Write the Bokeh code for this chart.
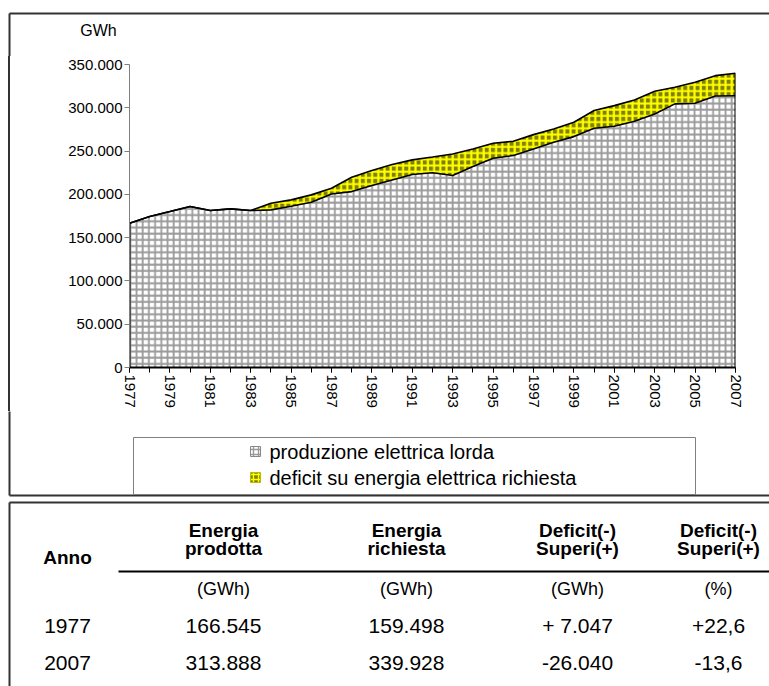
from bokeh.plotting import figure
from bokeh.models import ColumnDataSource, FixedTicker, Range1d, Div
from bokeh.layouts import column, row
from bokeh.core.properties import value
from bokeh.transform import stack
from bokeh.embed import file_html
from bokeh.resources import INLINE

# ---------------- data ----------------
years = list(range(1977, 2008))
produzione = [166545, 174400, 180100, 185900, 181300, 183200, 181300, 182100, 186300, 190900,
              200500, 203200, 210200, 216700, 223000, 225000, 221700, 232100, 241700, 244800,
              252500, 260200, 266700, 276300, 278700, 284400, 292900, 304500, 305300, 313700,
              313888]
deficit = [0, 0, 0, 0, 0, 0, 0, 7600, 7300, 8500,
           6500, 16500, 17300, 17700, 16800, 18200, 25000, 20400, 17300, 16500,
           16500, 15400, 16600, 20500, 23800, 24700, 26200, 19200, 24100, 23400,
           26040]
series_names = ["produzione elettrica lorda", "deficit su energia elettrica richiesta"]

y_ticks = [0, 50000, 100000, 150000, 200000, 250000, 300000, 350000]
y_tick_labels = ["0", "50.000", "100.000", "150.000", "200.000", "250.000", "300.000", "350.000"]
x_label_years = list(range(1977, 2008, 2))
x_tick_labels = [str(y) for y in x_label_years]
y_unit = "GWh"

# table
table_headers = [["Anno"], ["Energia", "prodotta"], ["Energia", "richiesta"],
                 ["Deficit(-)", "Superi(+)"], ["Deficit(-)", "Superi(+)"]]
table_units = ["", "(GWh)", "(GWh)", "(GWh)", "(%)"]
anno = ["1977", "2007"]
energia_prodotta = ["166.545", "313.888"]
energia_richiesta = ["159.498", "339.928"]
deficit_gwh = ["+ 7.047", "-26.040"]
deficit_pct = ["+22,6", "-13,6"]

FONT = "Liberation Sans"
BOX = "#333333"
W, H = 769, 686
PROD_STYLE = dict(fill_color="#ffffff", hatch_color="#9a9a9a")
DEF_STYLE = dict(fill_color="#808000", hatch_color="#ffff00")


def panel(w, h, x0, y0):
    """A blank figure whose frame is its whole canvas, in page pixel units (y down)."""
    f = figure(width=w, height=h, x_range=Range1d(x0, x0 + w), y_range=Range1d(y0 + h, y0),
               output_backend="svg", toolbar_location=None, min_border=0,
               x_axis_type=None, y_axis_type=None, title=None)
    f.grid.visible = False
    f.outline_line_color = None
    f.background_fill_color = "white"
    f.border_fill_color = "white"
    return f


# ---------------- top strip ----------------
T_H = 56
top = panel(W, T_H, 0, 0)
top.segment(x0=[9, 9], y0=[13, 13], x1=[W + 5, 9], y1=[13, T_H + 5], line_color=BOX, line_width=2)
top.text(x=[98], y=[30], text=[y_unit], text_font=value(FONT), text_font_size=value("16px"),
         text_align="center", text_baseline="middle", text_color="black")

# ---------------- chart ----------------
L_W = 58
C_H = 355
p = figure(width=W - L_W, height=C_H, x_range=(1977, 2007), y_range=(0, 350000),
           output_backend="svg", toolbar_location=None, title=None,
           min_border_left=129 - L_W, min_border_right=34, min_border_top=8, min_border_bottom=44)
p.grid.visible = False
p.outline_line_color = None
p.background_fill_color = "white"
p.border_fill_color = "white"

src = ColumnDataSource(dict(year=years, prod=produzione, deficit=deficit))
areas = p.varea_stack(stackers=["prod", "deficit"], x="year", source=src,
                      fill_color=[PROD_STYLE["fill_color"], DEF_STYLE["fill_color"]],
                      hatch_color=[PROD_STYLE["hatch_color"], DEF_STYLE["hatch_color"]],
                      hatch_pattern="+", hatch_scale=6.2, hatch_weight=[1.8, 2.2])

p.line("year", "prod", source=src, line_color="black", line_width=1.6)
p.line(x="year", y=stack("prod", "deficit"), source=src, line_color="black", line_width=1.6)
p.segment(x0=[years[-1]], y0=[0], x1=[years[-1]], y1=[produzione[-1] + deficit[-1]],
          line_color="black", line_width=2)
p.segment(x0=[years[0]], y0=[0], x1=[years[0]], y1=[produzione[0]],
          line_color="black", line_width=2)

ya = p.yaxis[0]
ya.ticker = FixedTicker(ticks=y_ticks)
ya.major_label_overrides = {t: l for t, l in zip(y_ticks, y_tick_labels)}
ya.minor_tick_line_color = None
ya.axis_line_color = "#808080"
ya.major_tick_line_color = "#808080"
ya.major_tick_out = 5
ya.major_tick_in = 0
ya.major_label_standoff = 2
ya.major_label_text_font = FONT
ya.major_label_text_font_size = "15px"
ya.major_label_text_color = "black"

xa = p.xaxis[0]
xa.ticker = FixedTicker(ticks=x_label_years, minor_ticks=years)
xa.major_label_overrides = {t: l for t, l in zip(x_label_years, x_tick_labels)}
xa.major_label_orientation = "vertical"
xa.axis_line_color = "black"
xa.axis_line_width = 2
xa.major_tick_out = 5
xa.major_tick_in = 0
xa.minor_tick_out = 5
xa.minor_tick_in = 0
xa.major_tick_line_color = "black"
xa.minor_tick_line_color = "black"
xa.major_label_standoff = 2
xa.major_label_text_font = FONT
xa.major_label_text_font_size = "15px"
xa.major_label_text_color = "black"

# left strip beside the chart: carries the outer box's left edge
left = Div(text="", width=L_W, height=C_H, margin=0,
           styles={"background": "linear-gradient(to right, #ffffff 8px, #333333 8px, "
                                 "#333333 10px, #ffffff 10px)"})

# ---------------- bottom: legend + table ----------------
B_Y = T_H + C_H
bot = panel(W, H - B_Y, 0, B_Y)
# outer chart box (left edge rest + bottom edge)
bot.segment(x0=[9, 9], y0=[B_Y - 5, 495], x1=[9, W + 5], y1=[495, 495], line_color=BOX, line_width=2)
# legend box
bot.quad(left=[133], right=[695], top=[437], bottom=[494], fill_color=None,
         line_color="#808080", line_width=1)
leg_y = [451, 477]
bot.quad(left=[250], right=[260], top=[leg_y[0] - 5], bottom=[leg_y[0] + 5],
         line_color="#888888", line_width=1, hatch_pattern="+", hatch_scale=5, hatch_weight=1.4,
         **PROD_STYLE)
bot.quad(left=[250], right=[260], top=[leg_y[1] - 5], bottom=[leg_y[1] + 5],
         line_color="#bbbb00", line_width=1, hatch_pattern="+", hatch_scale=5, hatch_weight=1.4,
         **DEF_STYLE)
bot.text(x=[269, 269], y=leg_y, text=series_names, text_font=value(FONT),
         text_font_size=value("20px"), text_align="left", text_baseline="middle",
         text_color="black")

# table box
bot.segment(x0=[9, 9], y0=[502, 502], x1=[W + 5, 9], y1=[502, H + 5], line_color=BOX, line_width=2)
bot.segment(x0=[118], y0=[571], x1=[W + 5], y1=[571], line_color="black", line_width=1.8)

col_x = [67, 223, 406, 577, 718]
hx, hy, ht = [], [], []
for cx, hdr in zip(col_x, table_headers):
    ys = [557] if len(hdr) == 1 else [530, 548]
    for t, yy in zip(hdr, ys):
        hx.append(cx); hy.append(yy); ht.append(t)
bot.text(x=hx, y=hy, text=ht, text_font=value(FONT), text_font_size=value("19px"),
         text_font_style="bold", text_align="center", text_baseline="middle", text_color="black")

ux = [cx for cx, t in zip(col_x, table_units) if t]
ut = [t for t in table_units if t]
bot.text(x=ux, y=[588] * len(ux), text=ut, text_font=value(FONT), text_font_size=value("18px"),
         text_align="center", text_baseline="middle", text_color="black")

rx, ry, rt = [], [], []
for cx, col in zip(col_x, [anno, energia_prodotta, energia_richiesta, deficit_gwh, deficit_pct]):
    for t, yy in zip(col, [625, 662]):
        rx.append(cx); ry.append(yy); rt.append(t)
bot.text(x=rx, y=ry, text=rt, text_font=value(FONT), text_font_size=value("21px"),
         text_align="center", text_baseline="middle", text_color="black")

layout = column(top, row(left, p), bot)
open("out.html", "w").write(file_html(layout, INLINE))
